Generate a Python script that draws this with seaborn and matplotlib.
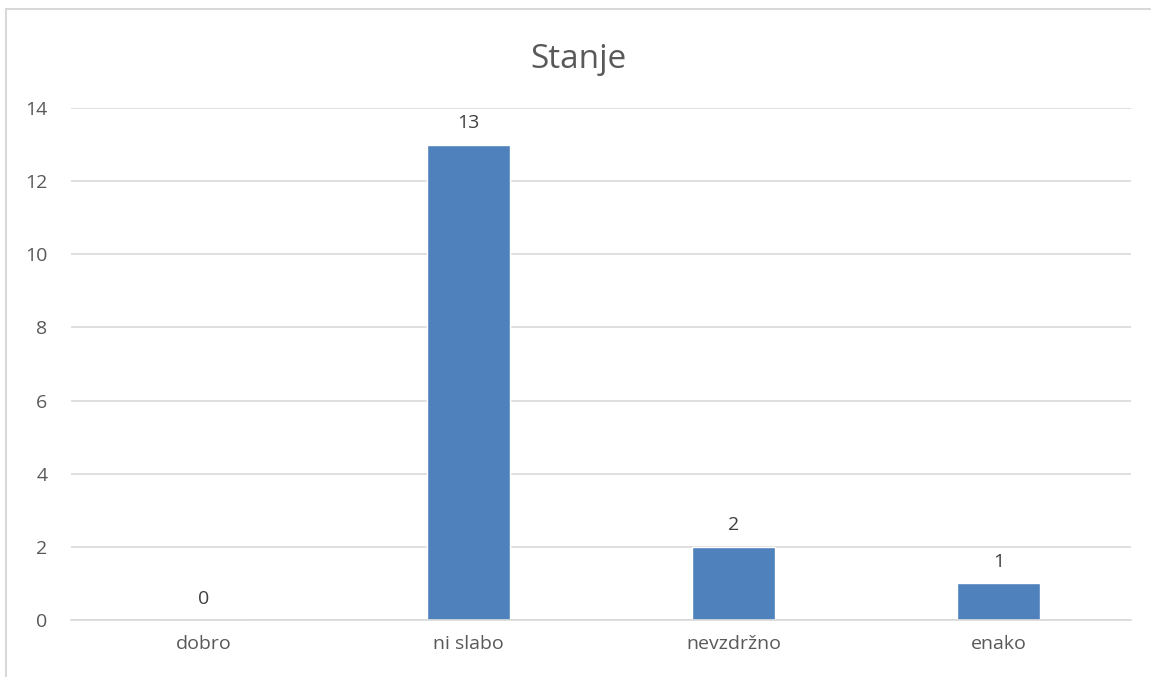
import matplotlib
matplotlib.use("Agg")
import matplotlib.pyplot as plt
import seaborn as sns
import pandas as pd
from matplotlib.lines import Line2D

# data
categories = ["dobro", "ni slabo", "nevzdržno", "enako"]
counts = [0, 13, 2, 1]
y_ticks = [0, 2, 4, 6, 8, 10, 12, 14]

df = pd.DataFrame({"kategorija": categories, "stevilo": counts})

sns.set_style("white")
plt.rcParams["font.family"] = ["Open Sans", "DejaVu Sans"]

text_col = "#595959"
grid_col = "#D9D9D9"

fig = plt.figure(figsize=(11.51, 6.77), dpi=100)
ax = fig.add_axes([71 / 1151, 1 - 620 / 677, 1060 / 1151, 512 / 677])

sns.barplot(data=df, x="kategorija", y="stevilo", color="#4F81BD",
            width=0.313, saturation=1, ax=ax)

ax.set_ylim(0, 14)
ax.set_yticks(y_ticks)
ax.set_xlim(-0.5, 3.5)
ax.yaxis.grid(True, color=grid_col, linewidth=1.2)
ax.set_axisbelow(True)
for s in ["top", "right", "left"]:
    ax.spines[s].set_visible(False)
ax.spines["bottom"].set_color(grid_col)
ax.spines["bottom"].set_linewidth(1.2)
ax.tick_params(axis="both", length=0, labelsize=14, colors=text_col)
ax.tick_params(axis="x", pad=11)
ax.tick_params(axis="y", pad=17)
ax.set_xlabel("")
ax.set_ylabel("")

for i, v in enumerate(counts):
    ax.annotate(str(v), (i, v), xytext=(0, 9), textcoords="offset points",
                ha="center", va="bottom", fontsize=14, color="#404040")

fig.text(578 / 1151, 1 - 60 / 677, "Stanje", ha="center", va="center",
         fontsize=24, color=text_col)

# chart frame (top and left edges only visible)
fx, fy = 6 / 1151, 1 - 9 / 677
fig.lines.append(Line2D([fx, 1.0], [fy, fy], transform=fig.transFigure,
                        color=grid_col, linewidth=1.5))
fig.lines.append(Line2D([fx, fx], [fy, 0.0], transform=fig.transFigure,
                        color=grid_col, linewidth=1.5))

fig.savefig("out.png", dpi=100)
